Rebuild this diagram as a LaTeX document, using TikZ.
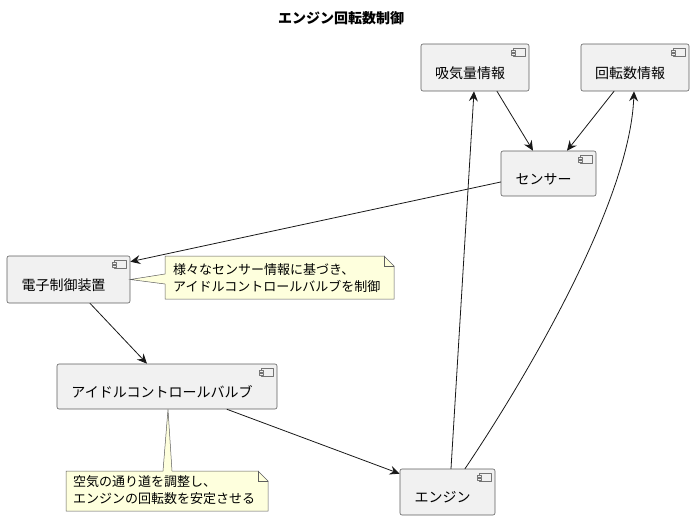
\documentclass[tikz,border=0pt]{standalone}
\usepackage{fontspec}
\setmainfont{Noto Sans CJK JP}
\usetikzlibrary{arrows.meta,calc}
\definecolor{compfill}{HTML}{F1F1F1}
\definecolor{linec}{HTML}{181818}
\definecolor{notefill}{HTML}{FEFFDD}
\tikzset{
	comp/.style={draw=linec!70, fill=compfill, line width=0.6pt, rounded corners=2pt,
		label={[font=\fontsize{14}{16}\selectfont, xshift=-5pt, yshift=-5.5pt]center:#1}},
	compicon/.style={draw=linec!60, line width=0.5pt, fill=compfill},
	notebox/.style={draw=linec!70, fill=notefill, line width=0.5pt, line join=miter},
	notetext/.style={anchor=north west, align=left, inner sep=0pt, font=\fontsize{13}{17}\selectfont},
	flow/.style={draw=linec, line width=0.8pt, ->}
}
\newcommand{\compmark}[1]{%
	\draw[compicon] ($(#1.north east)+(-16,5)$) rectangle ($(#1.north east)+(-4,13)$);
	\draw[compicon] ($(#1.north east)+(-18,6.5)$) rectangle ($(#1.north east)+(-14,8.5)$);
	\draw[compicon] ($(#1.north east)+(-18,9.5)$) rectangle ($(#1.north east)+(-14,11.5)$);
}

\begin{document}
\begin{tikzpicture}[line cap=round,line join=round,>={Stealth[length=10pt,width=9pt,inset=3.5pt]},x=1pt,y=-1pt]
	\useasboundingbox (0,0) rectangle (694,520);
	% title
	\node[font=\fontsize{14}{16}\selectfont\bfseries] (title) at (341,18) {エンジン回転数制御};
	% components
	\node[comp=吸気量情報, minimum width=108pt, minimum height=47pt] (intake) at (475,67.5) {};
	\node[comp=回転数情報, minimum width=108pt, minimum height=47pt] (rpm) at (635,67.5) {};
	\node[comp=センサー, minimum width=95pt, minimum height=45pt] (sensor) at (548.5,173.5) {};
	\node[comp=電子制御装置, minimum width=123pt, minimum height=47pt] (ecu) at (68.5,279.5) {};
	\node[comp=アイドルコントロールバルブ, minimum width=220pt, minimum height=45pt] (iacv) at (167,386.5) {};
	\node[comp=エンジン, minimum width=95pt, minimum height=46pt] (engine) at (447.5,492) {};
	\compmark{intake}
	\compmark{rpm}
	\compmark{sensor}
	\compmark{ecu}
	\compmark{iacv}
	\compmark{engine}
	% notes
	\draw[notebox] (165,256) -- (384,256) -- (394,266) -- (394,299) -- (165,299) -- (165,284) -- (ecu.east) -- (165,274) -- cycle;
	\draw[notebox, fill=none] (384,256) -- (384,266) -- (394,266);
	\node[notetext] (ecunote) at (173,263) {様々なセンサー情報に基づき、\\アイドルコントロールバルブを制御};
	\draw[notebox] (66,471) -- (163,471) -- ([xshift=1pt]iacv.south) -- (172,471) -- (258,471) -- (268,481) -- (268,511) -- (66,511) -- cycle;
	\draw[notebox, fill=none] (258,471) -- (258,481) -- (268,481);
	\node[notetext] (iacvnote) at (73,475) {空気の通り道を調整し、\\エンジンの回転数を安定させる};
	% connectors
	\draw[flow] ([xshift=22pt]intake.south) -- ([xshift=-15.5pt]sensor.north);
	\draw[flow] ([xshift=-21pt]rpm.south) -- ([xshift=18.5pt]sensor.north);
	\draw[flow] ([yshift=-8.5pt]sensor.west) -- ([yshift=-6pt]ecu.north east);
	\draw[flow] ([xshift=21.5pt]ecu.south) -- ([xshift=-20pt]iacv.north);
	\draw[flow] ([xshift=60pt]iacv.south) -- ([yshift=-5pt]engine.north west);
	\draw[flow] ([xshift=3.5pt]engine.north) -- ([xshift=-1pt]intake.south);
	\draw[flow] ([xshift=17.5pt]engine.north) .. controls (530,372) and (630,200) .. ([xshift=-1pt]rpm.south);
\end{tikzpicture}
\end{document}
